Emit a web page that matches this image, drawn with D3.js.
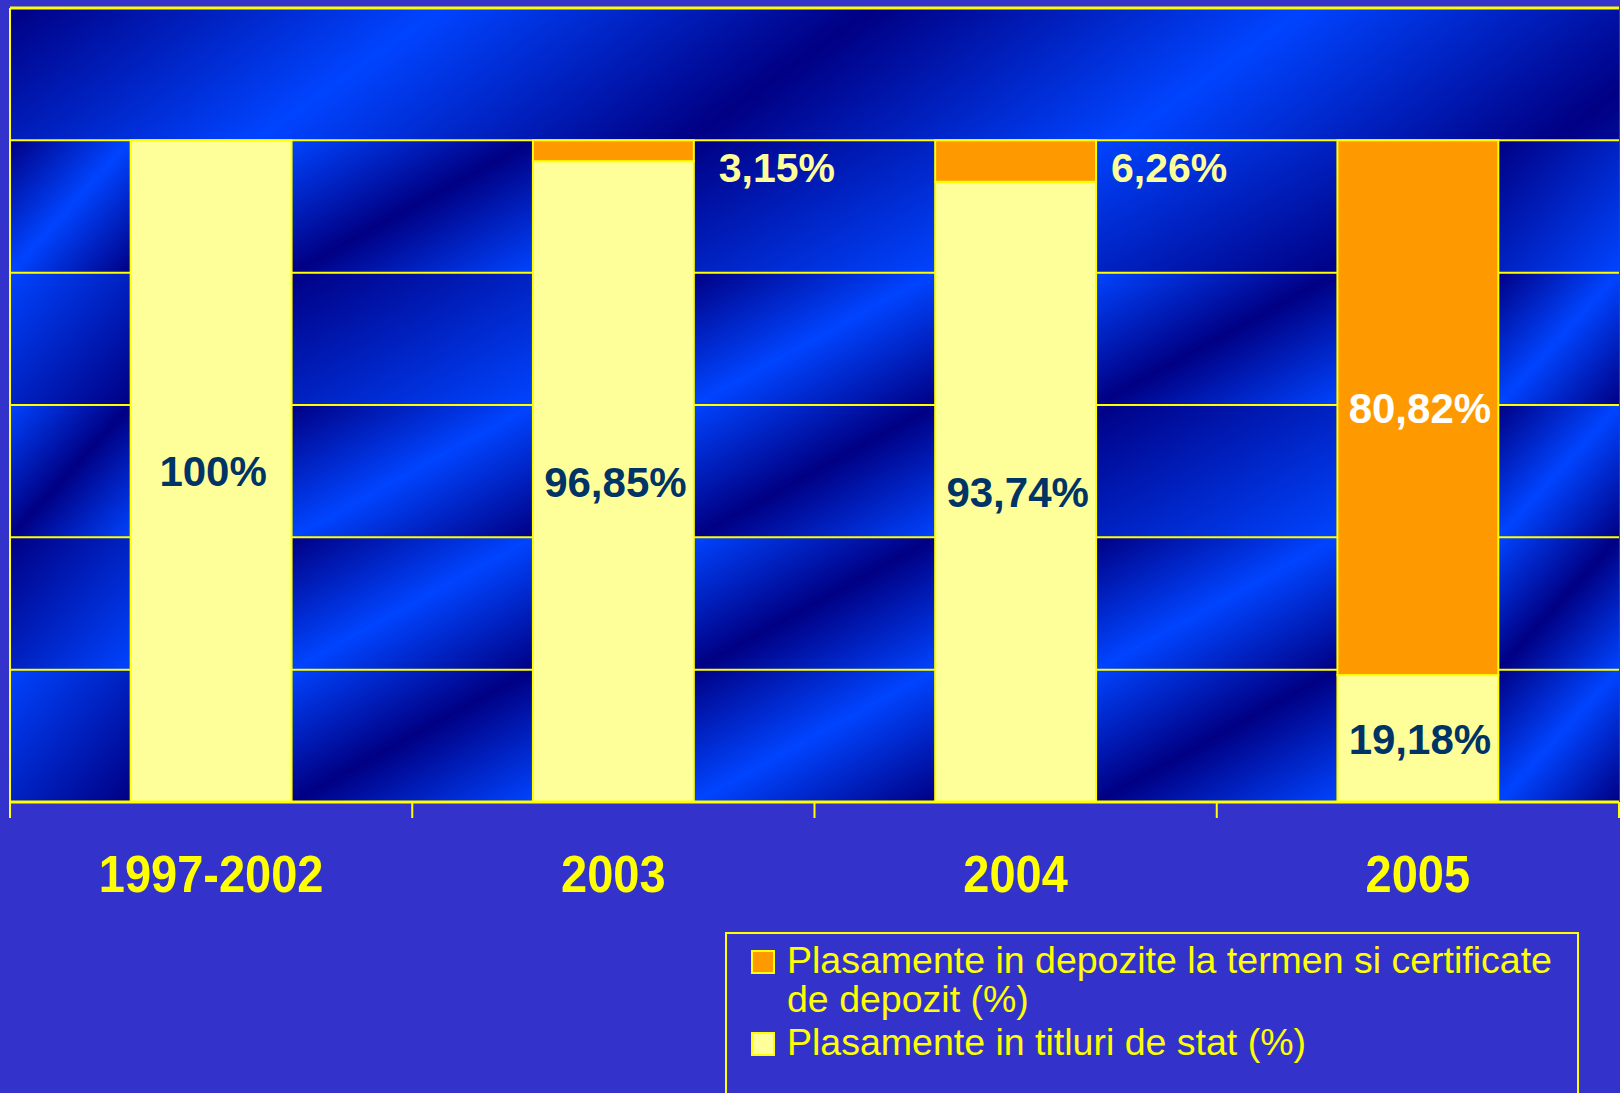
<!DOCTYPE html>
<html>
<head>
<meta charset="utf-8">
<script src="https://cdn.jsdelivr.net/npm/d3@7"></script>
<style>
  html, body { margin: 0; padding: 0; background: #3333cc; overflow: hidden; }
  svg { display: block; font-family: 'Liberation Sans', Arial, sans-serif; }
</style>
</head>
<body>
<div id="chart"></div>
<script>
// data
const categories = ['1997-2002', '2003', '2004', '2005'];
const titluri    = [100, 96.85, 93.74, 19.18];   // Plasamente in titluri de stat (%)
const depozite   = [0, 3.15, 6.26, 80.82];       // Plasamente in depozite la termen ... (%)
const yTicks     = [0, 20, 40, 60, 80, 100, 120];
const legendLabels = [
  ['Plasamente in depozite la termen si certificate', 'de depozit (%)'],
  ['Plasamente in titluri de stat (%)']
];

// look
const W = 1620, H = 1093;
const BG = '#3333cc', YEL = '#ffff00', PALE = '#ffff99', ORANGE = '#ff9900';
const DARK = '#000084', BRIGHT = '#0044ff';
// which shading each background cell gets (rows top->bottom, gaps left->right)
const cellTone = [
  ['A', 'B', 'R1', 'R2', 'R1'],
  ['R2', 'R1', 'A', 'B', 'A'],
  ['B', 'A', 'B', 'R1', 'A'],
  ['R1', 'A', 'B', 'A', 'B'],
  ['R2', 'B', 'A', 'B', 'A']
];
const smallLabelShift = [0, 25, 15, 0];

const svg = d3.select('#chart').append('svg').attr('width', W).attr('height', H);
svg.append('rect').attr('width', W).attr('height', H).attr('fill', BG);

const x = d3.scaleBand().domain(categories).range([10, 1619]).paddingInner(0.6).paddingOuter(0.3);
const y = d3.scaleLinear().domain([0, 120]).range([802, 8]);
const bw = x.bandwidth();

// gradients
const defs = svg.append('defs');
const tones = {
  A:  [DARK, BRIGHT, DARK],
  B:  [BRIGHT, DARK, BRIGHT],
  R1: [DARK, BRIGHT],
  R2: [BRIGHT, DARK]
};
Object.entries(tones).forEach(([k, cols]) => {
  const g = defs.append('linearGradient').attr('id', 'g' + k)
    .attr('x1', 0).attr('y1', 0).attr('x2', 1).attr('y2', 1);
  cols.forEach((c, i) => g.append('stop').attr('offset', i / (cols.length - 1)).attr('stop-color', c));
});
const topGrad = defs.append('linearGradient').attr('id', 'gTop')
  .attr('gradientUnits', 'userSpaceOnUse').attr('spreadMethod', 'reflect')
  .attr('x1', 10).attr('y1', 8).attr('x2', 155).attr('y2', 212);
topGrad.append('stop').attr('offset', 0).attr('stop-color', DARK);
topGrad.append('stop').attr('offset', 1).attr('stop-color', BRIGHT);

// background cells
const edges = [x.range()[0]];
categories.forEach(c => { edges.push(x(c)); edges.push(x(c) + bw); });
edges.push(x.range()[1]);
const gaps = d3.range(0, edges.length, 2).map(i => [edges[i], edges[i + 1]]);

const bg = svg.append('g');
bg.append('rect')
  .attr('x', x.range()[0]).attr('y', y(120))
  .attr('width', x.range()[1] - x.range()[0]).attr('height', y(100) - y(120))
  .attr('fill', 'url(#gTop)');
for (let r = 0; r < 5; r++) {
  const hi = yTicks[5 - r], lo = yTicks[4 - r];
  gaps.forEach((gp, c) => {
    bg.append('rect')
      .attr('x', gp[0]).attr('y', y(hi))
      .attr('width', gp[1] - gp[0]).attr('height', y(lo) - y(hi))
      .attr('fill', `url(#g${cellTone[r][c]})`);
  });
}

// gridlines
svg.append('g').selectAll('line').data(yTicks.slice(1)).join('line')
  .attr('x1', x.range()[0]).attr('x2', x.range()[1])
  .attr('y1', d => y(d)).attr('y2', d => y(d))
  .attr('stroke', YEL).attr('stroke-width', d => d === 120 ? 3 : 2);

// bars
const rows = categories.map((c, i) => ({ cat: c, titluri: titluri[i], depozite: depozite[i] }));
const stack = d3.stack().keys(['titluri', 'depozite'])(rows);
const fills = { titluri: PALE, depozite: ORANGE };
stack.forEach(s => {
  svg.append('g').selectAll('rect').data(s.filter(d => d[1] - d[0] > 0)).join('rect')
    .attr('x', d => x(d.data.cat)).attr('width', bw)
    .attr('y', d => y(d[1])).attr('height', d => y(d[0]) - y(d[1]))
    .attr('fill', fills[s.key]).attr('stroke', YEL).attr('stroke-width', 2);
});

// axes frame
const frame = svg.append('g').attr('stroke', YEL);
frame.append('line').attr('x1', 10).attr('x2', 10).attr('y1', y(120)).attr('y2', 818).attr('stroke-width', 2);
frame.append('line').attr('x1', x.range()[0]).attr('x2', x.range()[1]).attr('y1', y(0)).attr('y2', y(0)).attr('stroke-width', 3);
const tickXs = d3.range(categories.length + 1).map(i => x.range()[0] + i * x.step());
frame.selectAll('line.tick').data(tickXs).join('line').attr('class', 'tick')
  .attr('x1', d => d).attr('x2', d => d).attr('y1', y(0)).attr('y2', 818).attr('stroke-width', 2);

// category labels
svg.append('g').selectAll('text').data(categories).join('text')
  .attr('transform', d => `translate(${x(d) + bw / 2},892) scale(1,1.1)`)
  .attr('text-anchor', 'middle').attr('font-size', 47).attr('font-weight', 'bold')
  .attr('fill', YEL).text(d => d);

// value labels
const fmt = v => (Number.isInteger(v) ? String(v) : v.toFixed(2).replace('.', ',')) + '%';
const lab = svg.append('g').attr('font-weight', 'bold').attr('font-size', 42);
rows.forEach((d, i) => {
  lab.append('text')
    .attr('x', x(d.cat) + bw / 2 + 2).attr('y', y(d.titluri / 2)).attr('dy', '0.36em')
    .attr('text-anchor', 'middle').attr('fill', '#003366').text(fmt(d.titluri));
  if (d.depozite >= 20) {
    lab.append('text')
      .attr('x', x(d.cat) + bw / 2 + 2).attr('y', y(d.titluri + d.depozite / 2)).attr('dy', '0.36em')
      .attr('text-anchor', 'middle').attr('fill', '#ffffff').text(fmt(d.depozite));
  } else if (d.depozite > 0) {
    lab.append('text')
      .attr('x', x(d.cat) + bw + smallLabelShift[i]).attr('y', y(100) + 27).attr('dy', '0.36em')
      .attr('text-anchor', 'start').attr('fill', PALE).attr('font-size', 41).text(fmt(d.depozite));
  }
});

// legend
const leg = svg.append('g');
leg.append('rect').attr('x', 726).attr('y', 933).attr('width', 852).attr('height', 200)
  .attr('fill', BG).attr('stroke', YEL).attr('stroke-width', 2);
const legItems = [
  { color: ORANGE, lines: legendLabels[0], y: 951 },
  { color: PALE, lines: legendLabels[1], y: 1033 }
];
legItems.forEach(it => {
  leg.append('rect').attr('x', 752).attr('y', it.y).attr('width', 22).attr('height', 22)
    .attr('fill', it.color).attr('stroke', YEL).attr('stroke-width', 2);
  it.lines.forEach((t, j) => {
    leg.append('text').attr('x', 787).attr('y', it.y + 22 + j * 39)
      .attr('font-size', 37.5).attr('fill', YEL).text(t);
  });
});
</script>
</body>
</html>
